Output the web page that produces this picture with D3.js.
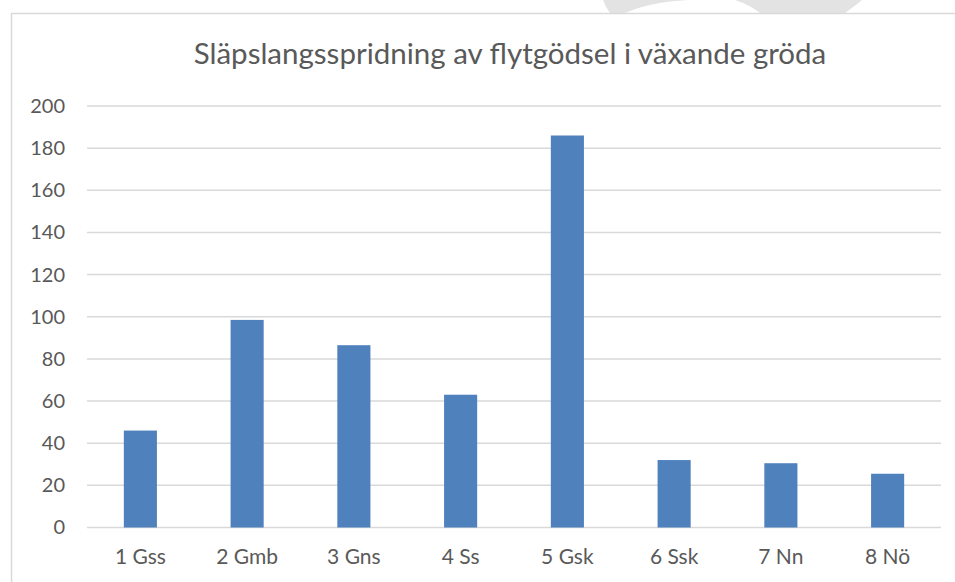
<!DOCTYPE html>
<html>
<head>
<meta charset="utf-8">
<script src="https://cdn.jsdelivr.net/npm/d3@7"></script>
<style>
  body { margin: 0; background: #fff; }
  svg { display: block; font-family: Lato, "Open Sans", sans-serif; }
  .tick text { fill: #595959; }
</style>
</head>
<body>
<div id="chart"></div>
<script>
var title = "Släpslangsspridning av flytgödsel i växande gröda";
var categories = ["1 Gss", "2 Gmb", "3 Gns", "4 Ss", "5 Gsk", "6 Ssk", "7 Nn", "8 Nö"];
var values = [46, 98.5, 86.5, 63, 186, 32, 30.5, 25.5];
var yTicks = [0, 20, 40, 60, 80, 100, 120, 140, 160, 180, 200];

var width = 955, height = 582;

var svg = d3.select("#chart")
	.append("svg")
	.attr("width", width)
	.attr("height", height);

// faint watermark bits above the frame
svg.append("path")
	.attr("d", "M603,0 Q606,8 610,13 L625,13 Q650,2 688,0 Z")
	.attr("fill", "#e3e3e3");
svg.append("path")
	.attr("d", "M735,0 Q750,5 760,13 L845,13 Q855,6 862,0 Z")
	.attr("fill", "#e3e3e3");

// chart frame
svg.append("rect")
	.attr("x", 11.5)
	.attr("y", 13.5)
	.attr("width", 960)
	.attr("height", 600)
	.attr("fill", "none")
	.attr("stroke", "#d9d9d9")
	.attr("stroke-width", 1.5);

var x = d3.scaleBand()
	.domain(categories)
	.range([87, 941])
	.paddingInner(0.69)
	.paddingOuter(0.345);

var y = d3.scaleLinear()
	.domain([0, 200])
	.range([527.5, 106]);

// gridlines
svg.append("g")
	.selectAll("line")
	.data(yTicks).enter()
	.append("line")
	.attr("x1", 87)
	.attr("x2", 941)
	.attr("y1", function(d){ return y(d); })
	.attr("y2", function(d){ return y(d); })
	.attr("stroke", "#d9d9d9")
	.attr("stroke-width", 1.5);

// y axis labels
var yAxis = svg.append("g")
	.attr("transform", "translate(87,0)")
	.call(d3.axisLeft(y).tickValues(yTicks).tickSize(0).tickPadding(22));
yAxis.select(".domain").remove();
yAxis.selectAll("text").attr("font-size", 20).attr("font-family", "Lato, sans-serif");

// bars
svg.append("g")
	.selectAll("rect")
	.data(values).enter()
	.append("rect")
	.attr("x", function(d, i){ return x(categories[i]); })
	.attr("y", function(d){ return y(d); })
	.attr("width", x.bandwidth())
	.attr("height", function(d){ return y(0) - y(d); })
	.attr("fill", "#4f81bd");

// x axis labels
var xAxis = svg.append("g")
	.attr("transform", "translate(0," + y(0) + ")")
	.call(d3.axisBottom(x).tickSize(0).tickPadding(22));
xAxis.select(".domain").remove();
xAxis.selectAll("text").attr("font-size", 21).attr("font-family", "Lato, sans-serif");

// title
svg.append("text")
	.attr("x", 510)
	.attr("y", 64)
	.attr("text-anchor", "middle")
	.attr("font-size", 29.5)
	.attr("fill", "#595959")
	.text(title);
</script>
</body>
</html>
